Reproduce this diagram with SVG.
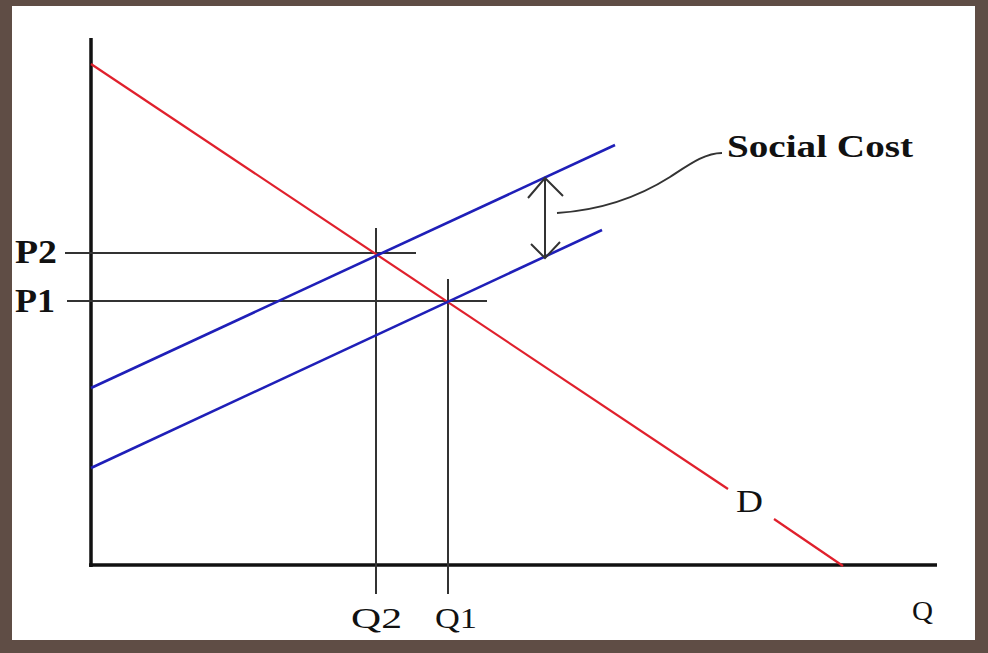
<svg xmlns="http://www.w3.org/2000/svg" width="988" height="653" viewBox="0 0 988 653">
<style>
.axis{stroke:#111;stroke-width:3.5;fill:none}
.guide{stroke:#333;stroke-width:2;fill:none}
.red{stroke:#e0202c;stroke-width:2.2;fill:none}
.blue{stroke:#1f1fb8;stroke-width:2.6;fill:none}
.lbl{font-family:"Liberation Serif","Times New Roman",serif;fill:#111}
.b{font-weight:bold}
</style>
<rect x="0" y="0" width="988" height="653" fill="#5f4d45"/>
<rect x="12" y="6" width="963" height="634" fill="#ffffff"/>
<g id="axes">
<line class="axis" x1="91" y1="38" x2="91" y2="567"/>
<line class="axis" x1="89" y1="565" x2="937" y2="565"/>
</g>
<g id="guides">
<line class="guide" x1="65" y1="253" x2="416" y2="253"/>
<line class="guide" x1="67" y1="301" x2="487" y2="301"/>
<line class="guide" x1="376" y1="228" x2="376" y2="594"/>
<line class="guide" x1="448" y1="279" x2="448" y2="594"/>
</g>
<g id="demand">
<line class="red" x1="91" y1="64" x2="728" y2="489"/>
<line class="red" x1="774" y1="519" x2="843" y2="566"/>
</g>
<g id="supply">
<line class="blue" x1="91" y1="388" x2="615" y2="145"/>
<line class="blue" x1="91" y1="468" x2="602" y2="230"/>
</g>
<g id="social-cost-arrow">
<path class="guide" d="M545,179 L545,257 M528,198 L545,178 L563,196 M531,244 L545,258 L560,242"/>
<path class="guide" stroke="#444" d="M557,213 C605,210 640,196 670,177 C690,164 705,153 722,153"/>
</g>
<g id="labels">
<text class="lbl b" x="15" y="263" font-size="33" textLength="42" lengthAdjust="spacingAndGlyphs">P2</text>
<text class="lbl b" x="15" y="312" font-size="33" textLength="40" lengthAdjust="spacingAndGlyphs">P1</text>
<text class="lbl" x="351" y="628" font-size="30" textLength="51" lengthAdjust="spacingAndGlyphs">Q2</text>
<text class="lbl" x="435" y="628" font-size="30" textLength="42" lengthAdjust="spacingAndGlyphs">Q1</text>
<text class="lbl" x="912" y="620" font-size="28" textLength="21" lengthAdjust="spacingAndGlyphs">Q</text>
<text class="lbl" x="736" y="512" font-size="31" textLength="27" lengthAdjust="spacingAndGlyphs">D</text>
<text class="lbl b" x="727" y="157" font-size="31" textLength="186" lengthAdjust="spacingAndGlyphs">Social Cost</text>
</g>
</svg>
